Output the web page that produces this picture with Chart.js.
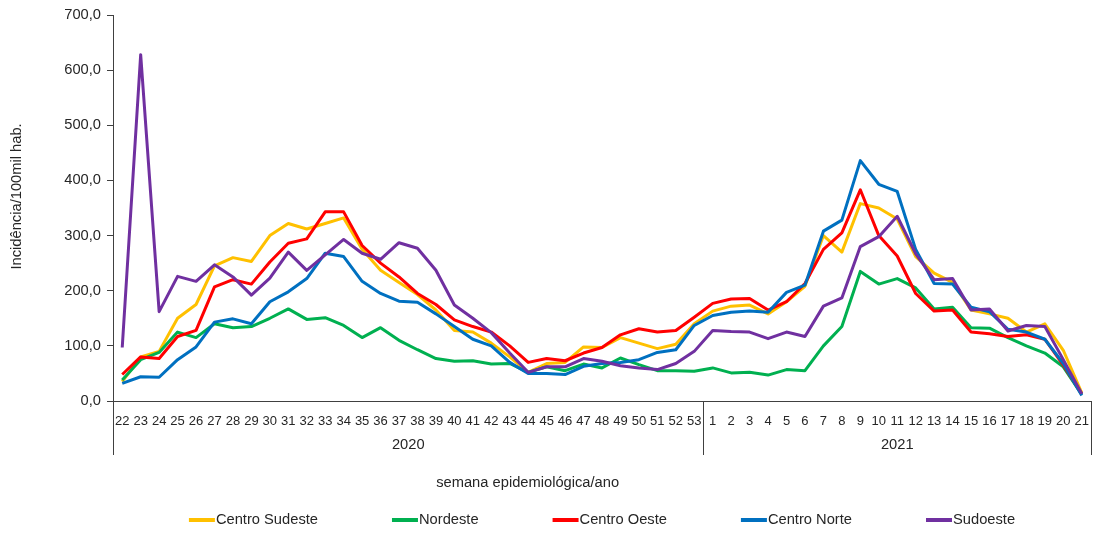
<!DOCTYPE html>
<html>
<head>
<meta charset="utf-8">
<script src="https://cdn.jsdelivr.net/npm/chart.js@4.4.1/dist/chart.umd.min.js"></script>
<style>
html, body { margin: 0; padding: 0; background: #fff; }
</style>
</head>
<body>
<canvas id="myChart" width="1094" height="533"></canvas>
<script>
// epidemiological weeks (2020: 22-53, 2021: 1-21)
const weeks = ['22','23','24','25','26','27','28','29','30','31','32','33','34','35','36','37','38','39','40','41','42','43','44','45','46','47','48','49','50','51','52','53',
               '1','2','3','4','5','6','7','8','9','10','11','12','13','14','15','16','17','18','19','20','21'];
const years = ['2020', '2021'];
const weeksPerYear = [32, 21];
const yTicks = [0, 100, 200, 300, 400, 500, 600, 700];

const centroSudeste = [35,80,90,150,175,245,260,253,300,322,312,322,332,275,237,215,193,165,128,125,105,80,52,68,70,98,97,115,105,95,103,140,
                       163,172,174,158,180,208,300,270,358,350,330,262,232,215,165,158,150,125,140,92,15];
const nordeste = [38,75,88,125,115,140,133,135,150,167,148,151,137,115,133,110,93,77,72,73,67,68,52,62,55,67,60,78,66,55,55,54,
                  60,51,52,47,57,55,100,135,235,212,222,205,167,170,133,132,115,100,87,62,12];
const centroOeste = [48,80,77,117,128,207,220,212,252,286,294,343,343,282,250,225,195,175,147,135,125,100,70,77,73,87,97,120,131,125,128,152,
                     177,185,186,165,180,213,275,305,383,300,263,195,163,165,125,122,117,120,112,65,13];
const centroNorte = [32,44,43,75,98,143,149,140,180,198,222,268,262,217,195,181,179,158,135,112,100,70,50,50,48,63,68,70,75,88,93,137,
                     155,161,163,161,197,210,308,328,436,393,380,275,213,212,170,162,130,125,112,68,10];
const sudoeste = [97,628,162,226,217,247,225,192,223,270,237,265,293,268,257,287,277,237,174,150,124,87,52,62,62,77,72,64,60,57,68,90,
                  128,126,125,113,125,117,172,187,280,298,335,267,220,222,165,167,127,137,135,75,13];

const textColor = '#262626';
const axisColor = '#404040';
const fontName = 'Liberation Sans, Arial, sans-serif';
const textSize = 14.7;

function line(label, values, color, order) {
  return {
    label: label,
    data: values,
    borderColor: color,
    backgroundColor: color,
    borderWidth: 3,
    borderJoinStyle: 'round',
    pointRadius: 0,
    tension: 0,
    order: order
  };
}

const data = {
  labels: weeks,
  datasets: [
    line('Centro Sudeste', centroSudeste, '#FFC000', 4),
    line('Nordeste', nordeste, '#00B050', 3),
    line('Centro Oeste', centroOeste, '#FF0000', 2),
    line('Centro Norte', centroNorte, '#0070C0', 1),
    line('Sudoeste', sudoeste, '#7030A0', 0)
  ]
};

// year groups under the week labels, axis titles and the legend
const extras = {
  id: 'extras',
  afterDraw(chart) {
    const ctx = chart.ctx;
    const x = chart.scales.x;
    const area = chart.chartArea;
    ctx.save();
    ctx.strokeStyle = axisColor;
    ctx.lineWidth = 1;
    ctx.fillStyle = textColor;
    ctx.font = textSize + 'px ' + fontName;
    ctx.textAlign = 'center';
    ctx.textBaseline = 'middle';

    let start = 0;
    let left = area.left;
    const edges = [area.left];
    years.forEach((yr, i) => {
      const end = start + weeksPerYear[i];
      const right = end < weeks.length ? (x.getPixelForValue(end - 1) + x.getPixelForValue(end)) / 2 : area.right;
      ctx.fillText(yr, (left + right) / 2, area.bottom + 44);
      edges.push(right);
      left = right;
      start = end;
    });
    edges.forEach(e => {
      ctx.beginPath();
      ctx.moveTo(Math.round(e) + 0.5, area.bottom);
      ctx.lineTo(Math.round(e) + 0.5, area.bottom + 54);
      ctx.stroke();
    });

    ctx.fillText('semana epidemiológica/ano', area.left + (area.right - area.left) * 0.424, area.bottom + 82);

    // y axis title, sits a bit above the middle of the plot like the original
    ctx.save();
    ctx.translate(17, area.top + (area.bottom - area.top) * 0.47);
    ctx.rotate(-Math.PI / 2);
    ctx.fillText('Incidência/100mil hab.', 0, 0);
    ctx.restore();

    // legend
    const swatch = 26, gap = 1, spacing = 74;
    const items = chart.data.datasets.map(ds => ({ ds: ds, w: ctx.measureText(ds.label).width }));
    let total = 0;
    items.forEach((it, i) => { total += swatch + gap + it.w + (i < items.length - 1 ? spacing : 0); });
    let cx = (area.left + area.right) / 2 - total / 2;
    const ly = 520;
    ctx.textAlign = 'left';
    items.forEach(it => {
      ctx.strokeStyle = it.ds.borderColor;
      ctx.lineWidth = 4;
      ctx.beginPath();
      ctx.moveTo(cx, ly);
      ctx.lineTo(cx + swatch, ly);
      ctx.stroke();
      ctx.fillText(it.ds.label, cx + swatch + gap, ly);
      cx += swatch + gap + it.w + spacing;
    });
    ctx.restore();
  }
};

const config = {
  type: 'line',
  data: data,
  options: {
    responsive: false,
    animation: false,
    layout: { padding: { top: 15, right: 3, left: 0, bottom: 0 } },
    plugins: {
      legend: { display: false },
      tooltip: { enabled: false }
    },
    scales: {
      x: {
        offset: true,
        grid: { display: false },
        border: { display: true, color: axisColor, width: 1 },
        ticks: {
          autoSkip: false,
          maxRotation: 0,
          minRotation: 0,
          padding: 5,
          color: textColor,
          font: { family: fontName, size: 13 }
        },
        afterFit(scale) { scale.height = 132; }
      },
      y: {
        min: 0,
        max: 700,
        afterBuildTicks(scale) { scale.ticks = yTicks.map(v => ({ value: v })); },
        grid: { display: true, drawOnChartArea: false, drawTicks: true, tickLength: 6, color: axisColor },
        border: { display: true, color: axisColor, width: 1 },
        ticks: {
          padding: 6,
          color: textColor,
          font: { family: fontName, size: textSize },
          callback: v => v.toFixed(1).replace('.', ',')
        },
        afterFit(scale) { scale.width = 113; }
      }
    }
  },
  plugins: [extras]
};

const myChart = new Chart(document.getElementById('myChart').getContext('2d'), config);
</script>
</body>
</html>
